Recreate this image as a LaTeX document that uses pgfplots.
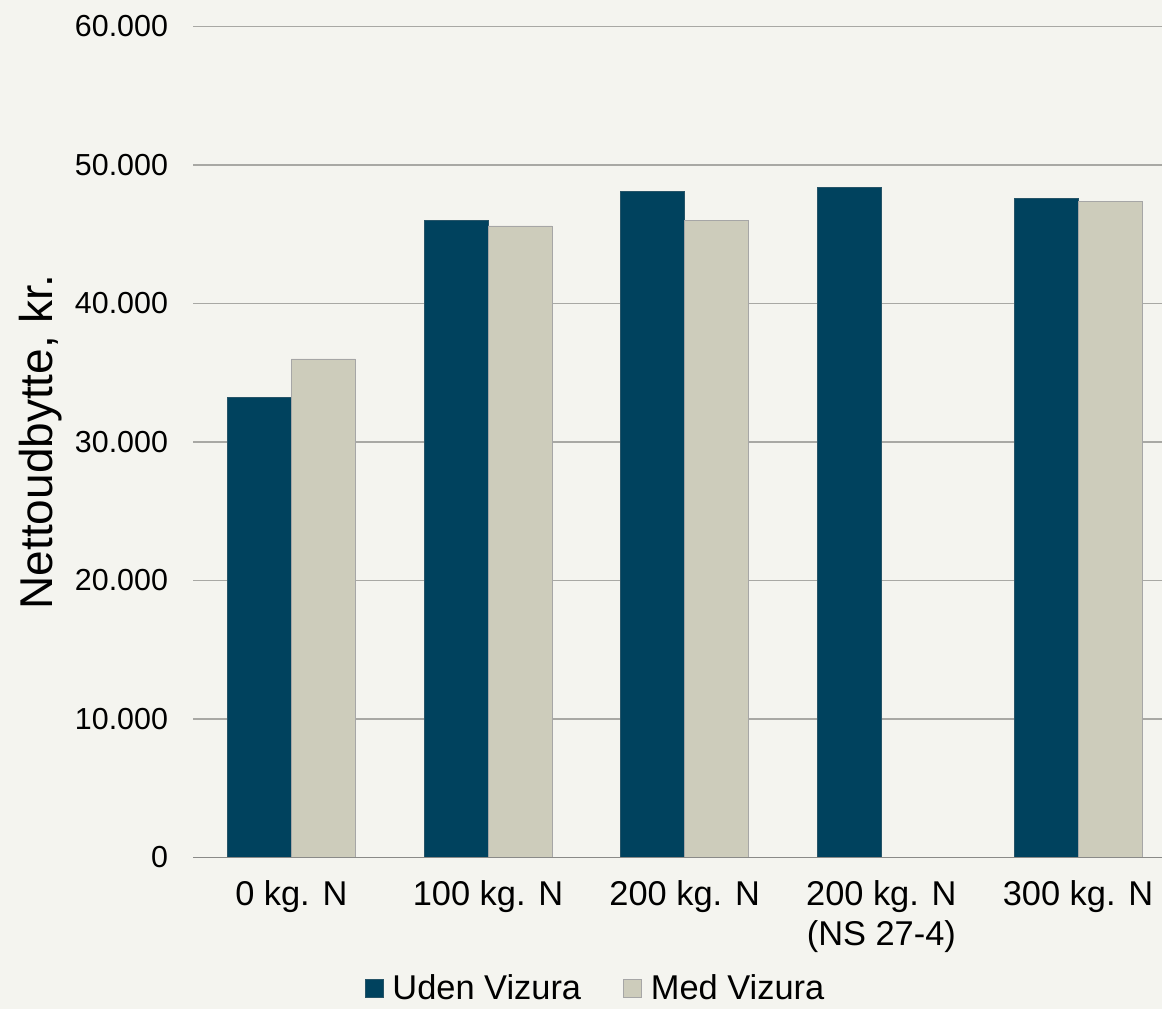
\documentclass[border=0pt]{standalone}
\usepackage{fontspec}
\setmainfont{Liberation Sans}
\usepackage{pgfplots}
\pgfplotsset{compat=1.18}

\definecolor{bgcol}{HTML}{F4F4EF}
\definecolor{udencol}{HTML}{00425E}
\definecolor{medcol}{HTML}{CDCCBB}
\definecolor{gridcol}{HTML}{A8A8A4}
\definecolor{basecol}{HTML}{8A8A88}

\begin{document}
\begin{tikzpicture}
\fill[bgcol] (0,0) rectangle (581pt,504.5pt);
\useasboundingbox (0,0) rectangle (581pt,504.5pt);
\begin{axis}[
  at={(96.5pt,75.75pt)}, anchor=south west,
  scale only axis, width=484.5pt, height=415.5pt,
  ybar=0pt, bar width=0.325,
  xmin=-0.5, xmax=4.427,
  ymin=0, ymax=60000,
  scaled y ticks=false,
  axis line style={draw=none},
  major tick length=0pt,
  ymajorgrids, grid style={gridcol, line width=0.8pt},
  ytick={0,10000,20000,30000,40000,50000,60000},
  yticklabels={0,10.000,20.000,30.000,40.000,50.000,60.000},
  xtick={0,1,2,3,4},
  xticklabels={0 kg. N,100 kg. N,200 kg. N,{200 kg. N\\(NS 27-4)},300 kg. N},
  /pgf/number format/assume math mode=true,
  yticklabel style={font=\fontsize{15.2}{18}\selectfont, text=black, xshift=-9pt},
  xticklabel style={font=\fontsize{17.2}{20}\selectfont, text=black, align=center, yshift=-8pt},
  ylabel={Nettoudbytte, kr.},
  every axis y label/.style={at={(axis description cs:-0.1569,0.5)}, rotate=90, anchor=center,
    font=\fontsize{23}{27}\selectfont},
  legend style={at={(axis description cs:0.4164,-0.158)}, anchor=center,
    draw=none, fill=none, legend columns=2,
    font=\fontsize{17.2}{20}\selectfont,
    /tikz/every even column/.append style={column sep=19pt}},
  legend image code/.code={\fill[#1] (0pt,-4.5pt) rectangle (9pt,4.5pt); \path (11.5pt,0pt);},
]
\addplot[fill=udencol, draw=udencol!70!gray, line width=0.4pt]
  coordinates {(0,33200) (1,46000) (2,48100) (3,48400) (4,47600)};
\addplot[fill=medcol, draw=gray!70, line width=0.4pt]
  coordinates {(0,36000) (1,45600) (2,46000) (4,47400)};
\legend{Uden Vizura, Med Vizura}
\draw[basecol, line width=1pt] (axis cs:-0.5,0) -- (axis cs:4.427,0);
\end{axis}
\end{tikzpicture}
\end{document}
